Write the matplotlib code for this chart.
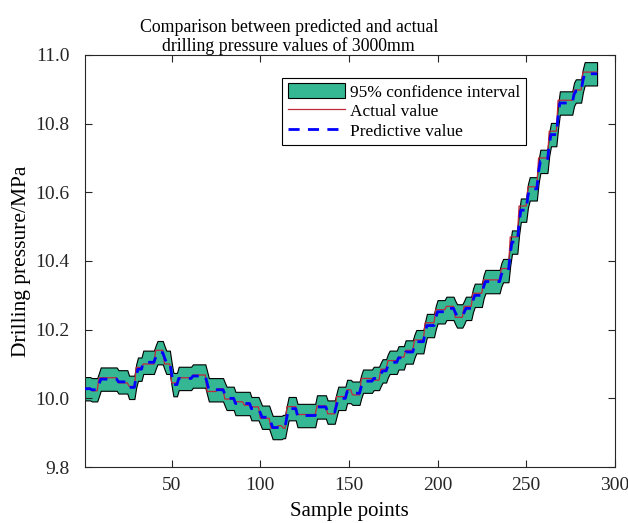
import numpy as np
import matplotlib
matplotlib.use("Agg")
import matplotlib.pyplot as plt
from matplotlib.patches import Patch
from matplotlib.lines import Line2D

plt.rcParams['font.family'] = ['Liberation Serif', 'DejaVu Serif']

# --- data (step-like series, run length + level) ---
actual_runs = [4, 4, 11, 6, 4, 4, 7, 5, 4, 4,
               8, 8, 6, 4, 6, 5, 4, 5, 6, 4,
               3, 2, 6, 11, 6, 5, 6, 3, 5, 7,
               4, 4, 6, 4, 5, 6, 6, 6, 5, 5,
               5, 6, 10, 5, 5, 5, 6, 6, 5, 9,
               5, 9]
actual_levels = [10.030, 10.022, 10.060, 10.045, 10.035, 10.090, 10.100, 10.140, 10.100, 10.045,
                 10.060, 10.068, 10.020, 10.028, 9.998, 9.990, 9.980, 9.975, 9.942, 9.913,
                 9.920, 9.913, 9.976, 9.953, 9.978, 9.955, 10.005, 10.025, 10.010, 10.058,
                 10.053, 10.085, 10.110, 10.120, 10.140, 10.170, 10.220, 10.258, 10.268, 10.236,
                 10.268, 10.306, 10.345, 10.378, 10.470, 10.560, 10.616, 10.700, 10.778, 10.868,
                 10.898, 10.950]

# predicted value: follows the actual one with a one-sample transition at each step
pred_runs = [4, 4, 1, 10, 6, 4, 1, 3, 7, 1,
             4, 1, 3, 1, 3, 8, 8, 1, 5, 4,
             1, 5, 5, 4, 5, 1, 5, 1, 3, 3,
             2, 1, 5, 11, 6, 5, 1, 5, 3, 5,
             1, 6, 4, 1, 3, 1, 5, 4, 5, 1,
             5, 1, 5, 1, 5, 5, 1, 4, 1, 4,
             1, 5, 1, 9, 1, 4, 1, 4, 1, 4,
             1, 5, 1, 5, 1, 4, 1, 8, 1, 4,
             1, 8]
pred_levels = [10.028, 10.025, 10.040, 10.056, 10.048, 10.032, 10.065, 10.085, 10.105, 10.120,
               10.133, 10.118, 10.105, 10.070, 10.040, 10.058, 10.065, 10.045, 10.025, 10.025,
               10.012, 10.000, 9.985, 9.985, 9.970, 9.958, 9.945, 9.930, 9.915, 9.915,
               9.918, 9.945, 9.970, 9.950, 9.975, 9.960, 9.980, 10.000, 10.020, 10.015,
               10.035, 10.050, 10.058, 10.070, 10.080, 10.095, 10.105, 10.118, 10.135, 10.152,
               10.165, 10.190, 10.212, 10.235, 10.252, 10.262, 10.250, 10.240, 10.250, 10.262,
               10.285, 10.300, 10.325, 10.340, 10.360, 10.372, 10.420, 10.455, 10.510, 10.548,
               10.590, 10.610, 10.660, 10.690, 10.740, 10.768, 10.820, 10.860, 10.885, 10.895,
               10.925, 10.945]

ci_half_width = 0.034

actual = np.repeat(actual_levels, actual_runs)
pred = np.repeat(pred_levels, pred_runs)
x = np.arange(1, len(actual) + 1)

fig = plt.figure(figsize=(6.28, 5.23), dpi=100)
ax = fig.add_axes([0.135, 0.107, 0.844, 0.788])

teal = '#34b792'
red = '#c0283c'
ax.fill_between(x, pred - ci_half_width, pred + ci_half_width,
                facecolor=teal, edgecolor='black', linewidth=0.8, zorder=1)
ax.plot(x, actual, color=red, lw=0.9, zorder=2)
ax.plot(x, pred, color='blue', lw=2, linestyle=(0, (4, 3)), zorder=3)

ax.set_xlim(1, 300)
ax.set_ylim(9.8, 11.0)
ax.set_xticks([50, 100, 150, 200, 250, 300])
ax.set_yticks(np.arange(9.8, 11.01, 0.2))
ax.yaxis.set_major_formatter(plt.FormatStrFormatter('%.1f'))
ax.tick_params(direction='in', top=True, right=True, labelsize=14, length=5,
               width=0.8, colors='#262626')
ax.tick_params(axis='y', pad=11)
ax.tick_params(axis='x', pad=7)
for s in ax.spines.values():
    s.set_linewidth(0.8)
    s.set_color('#262626')

ax.set_xlabel('Sample points', fontsize=15, labelpad=6)
ax.set_ylabel('Drilling pressure/MPa', fontsize=15.5, labelpad=3)
ax.set_title('Comparison between predicted and actual\ndrilling pressure values of 3000mm',
             fontsize=12.8, linespacing=1.05, pad=3, x=0.385)

handles = [Patch(facecolor=teal, edgecolor='black', linewidth=0.8),
           Line2D([], [], color=red, lw=0.9),
           Line2D([], [], color='blue', lw=2, linestyle=(0, (4, 3)))]
labels = ['95% confidence interval', 'Actual value', 'Predictive value']
leg = ax.legend(handles, labels, loc='upper left', bbox_to_anchor=(0.373, 0.945),
                fontsize=12.5, frameon=True, fancybox=False, framealpha=1,
                edgecolor='black', handlelength=3.3, handleheight=1.0,
                handletextpad=0.3, labelspacing=0.12, borderpad=0.3, borderaxespad=0)
leg.get_frame().set_linewidth(0.8)

fig.savefig('out.png', dpi=100)
